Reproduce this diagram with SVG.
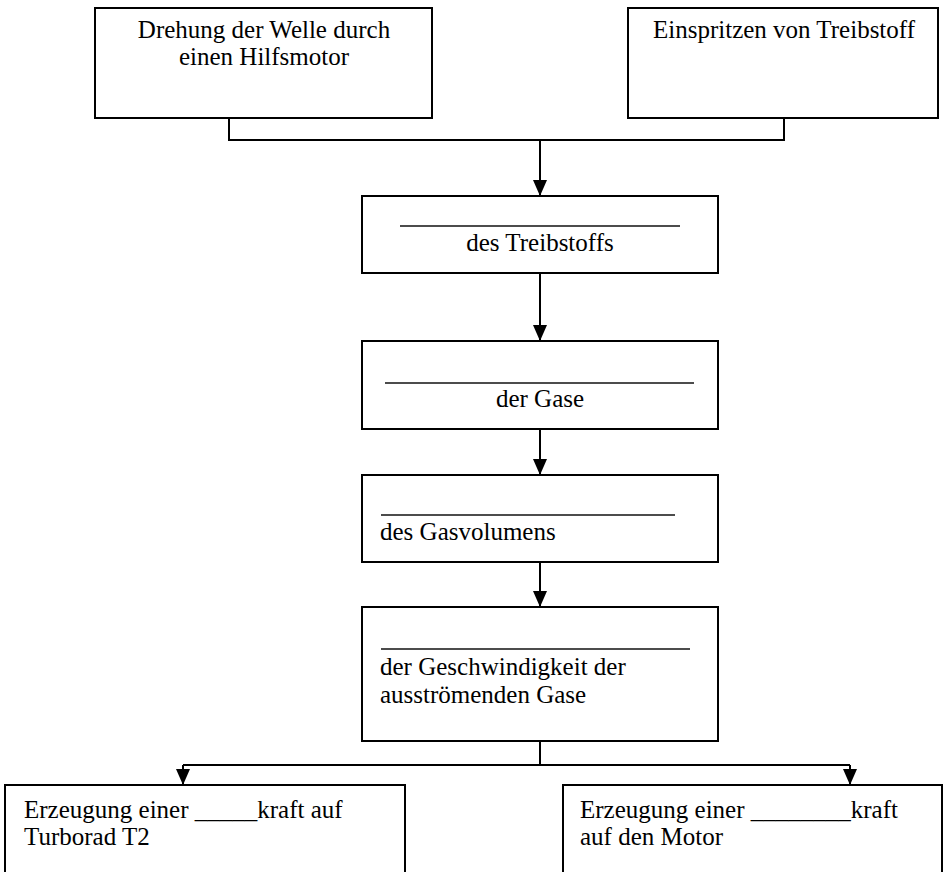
<svg xmlns="http://www.w3.org/2000/svg" width="944" height="872" viewBox="0 0 944 872">
<style>
.box{fill:#fff;stroke:#000;stroke-width:2}
.t{font-family:'Liberation Serif','Times New Roman',Times,serif;font-size:25px;fill:#000}
.c{text-anchor:middle}
.ul{stroke:#111;stroke-width:1.3}
.con{fill:none;stroke:#000;stroke-width:2}
</style>
<defs>
<marker id="ah" markerWidth="16" markerHeight="14" refX="16" refY="7" orient="auto" markerUnits="userSpaceOnUse" viewBox="0 0 16 14">
<path d="M0,0 L16,7 L0,14 Z" fill="#000"/>
</marker>
</defs>
<rect width="944" height="872" fill="#fff"/>
<g id="connectors">
<path class="con" d="M229,118 V140 H784 V118"/>
<line class="con" x1="540" y1="140" x2="540" y2="196" marker-end="url(#ah)"/>
<line class="con" x1="540" y1="273" x2="540" y2="341" marker-end="url(#ah)"/>
<line class="con" x1="540" y1="429" x2="540" y2="475" marker-end="url(#ah)"/>
<line class="con" x1="540" y1="562" x2="540" y2="607" marker-end="url(#ah)"/>
<path class="con" d="M540,741 V765"/>
<path class="con" d="M183,765 H850"/>
<line class="con" x1="183" y1="765" x2="183" y2="785" marker-end="url(#ah)"/>
<line class="con" x1="850" y1="765" x2="850" y2="785" marker-end="url(#ah)"/>
</g>
<g id="n1">
<rect class="box" x="95" y="8" width="337" height="110"/>
<text class="t c" x="264" y="38">Drehung der Welle durch</text>
<text class="t c" x="264" y="65">einen Hilfsmotor</text>
</g>
<g id="n2">
<rect class="box" x="628" y="8" width="310" height="110"/>
<text class="t c" x="784" y="38">Einspritzen von Treibstoff</text>
</g>
<g id="n3">
<rect class="box" x="362" y="196" width="356" height="77"/>
<line class="ul" x1="400" y1="226" x2="680" y2="226"/>
<text class="t c" x="540" y="251">des Treibstoffs</text>
</g>
<g id="n4">
<rect class="box" x="362" y="341" width="356" height="88"/>
<line class="ul" x1="385" y1="383" x2="694" y2="383"/>
<text class="t c" x="540" y="407">der Gase</text>
</g>
<g id="n5">
<rect class="box" x="362" y="475" width="356" height="87"/>
<line class="ul" x1="381" y1="515" x2="675" y2="515"/>
<text class="t" x="380" y="540">des Gasvolumens</text>
</g>
<g id="n6">
<rect class="box" x="362" y="607" width="356" height="134"/>
<line class="ul" x1="381" y1="649" x2="690" y2="649"/>
<text class="t" x="380" y="675">der Geschwindigkeit der</text>
<text class="t" x="380" y="703">ausströmenden Gase</text>
</g>
<g id="n7">
<rect class="box" x="5" y="785" width="400" height="95"/>
<text class="t" x="24" y="818">Erzeugung einer _____kraft auf</text>
<text class="t" x="24" y="845">Turborad T2</text>
</g>
<g id="n8">
<rect class="box" x="563" y="785" width="379" height="95"/>
<text class="t" x="580" y="818">Erzeugung einer ________kraft</text>
<text class="t" x="580" y="845">auf den Motor</text>
</g>
</svg>
